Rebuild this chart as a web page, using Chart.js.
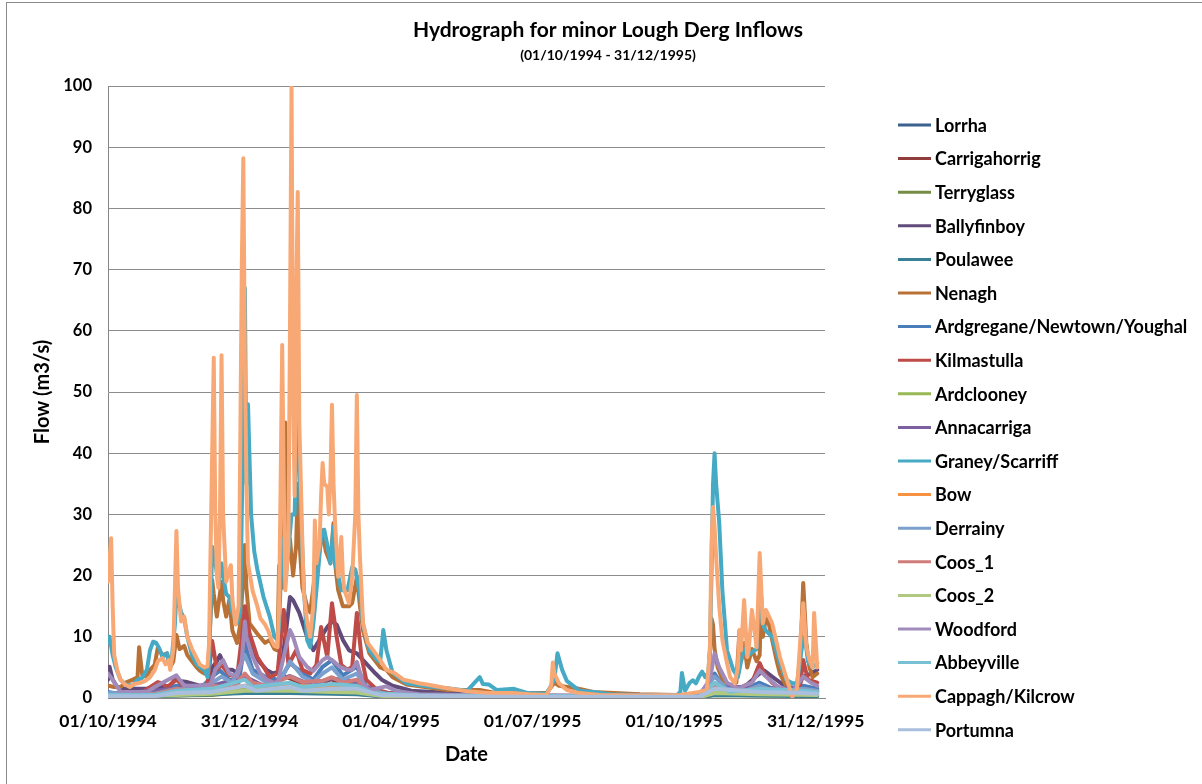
<!DOCTYPE html>
<html>
<head>
<meta charset="utf-8">
<script src="https://cdn.jsdelivr.net/npm/chart.js@4.4.1/dist/chart.umd.min.js"></script>
<style>
  html, body { margin: 0; padding: 0; background: #fff; overflow: hidden; }
  #wrap { position: relative; width: 1202px; height: 784px; }
  #frame { position: absolute; left: 6px; top: 2px; width: 1220px; height: 800px; border: 1px solid #8a8a8a; pointer-events: none; }
</style>
</head>
<body>
<div id="wrap">
  <canvas id="hydro" width="1202" height="784"></canvas>
  <div id="frame"></div>
</div>
<script>
// x values are days counted from 01/10/1994
var tickDays = [0, 91, 182, 273, 364, 455];
var tickLabels = ["01/10/1994", "31/12/1994", "01/04/1995", "01/07/1995", "01/10/1995", "31/12/1995"];

var seriesNames = ["Lorrha", "Carrigahorrig", "Terryglass", "Ballyfinboy", "Poulawee", "Nenagh",
  "Ardgregane/Newtown/Youghal", "Kilmastulla", "Ardclooney", "Annacarriga", "Graney/Scarriff", "Bow",
  "Derrainy", "Coos_1", "Coos_2", "Woodford", "Abbeyville", "Cappagh/Kilcrow", "Portumna"];

var seriesColors = ["#3B618E", "#903C3A", "#748C43", "#604B7A", "#388195", "#B97135",
  "#4A7EBB", "#BE4B48", "#98B954", "#7D60A0", "#46AAC5", "#F69240",
  "#7BA0CD", "#CF7C7A", "#B0C880", "#A08BBA", "#78C1D4", "#F8A874", "#A9BFDD"];

// [day, flow m3/s]
var lorrha = [[0,0.3],[20,0.4],[44,0.7],[67,0.9],[88,1.6],[100,0.9],[117,1.4],[130,0.8],[144,1.2],[160,1.1],[175,0.4],[220,0.2],[380,0.2],[390,0.8],[419,0.6],[447,0.6],[456,0.5]];
var carrigahorrig = [[0,0.4],[32,0.9],[44,1.2],[59,0.7],[67,2.2],[73,1.8],[88,3.2],[100,1.6],[114,3.5],[117,3.2],[130,1.8],[144,3.1],[150,1.8],[160,2.6],[170,0.8],[200,0.3],[380,0.3],[390,1.6],[419,1.5],[447,1.5],[456,1]];
var terryglass = [[0,0.2],[44,0.4],[67,0.5],[88,1],[117,0.9],[144,0.8],[160,0.7],[180,0.2],[380,0.1],[390,0.5],[419,0.4],[456,0.4]];
var ballyfinboy = [[0,3],[1,5.1],[3,3],[6,1.8],[8,1.5],[14,1.5],[25,1.5],[33,1.8],[40,2],[44,3.4],[46,2.8],[51,2.6],[59,2],[64,2.2],[67,5],[70,6],[72,7],[76,4.6],[80,4.6],[84,4],[86,7],[89,11.6],[90,10],[93,7.3],[98,5.7],[102,4.6],[106,4],[110,4.3],[112,6],[115,12],[117,16.5],[119,16],[123,13.9],[128,10],[132,7.8],[136,9.5],[141,11.6],[144,12.5],[147,12],[151,9.5],[155,7.8],[160,7.3],[164,6.2],[168,5.1],[172,4],[176,3],[183,2],[195,1.2],[220,0.8],[260,0.5],[300,0.3],[370,0.3],[388,1.2],[392,2],[400,1.2],[410,2],[419,4],[422,4.5],[427,3.5],[435,2],[443,1.5],[447,3.5],[452,4],[456,4.6]];
var poulawee = [[0,0.2],[44,0.4],[88,0.8],[117,0.8],[144,0.7],[160,0.6],[180,0.2],[380,0.1],[390,0.5],[456,0.3]];
var nenagh = [[0,2],[4,1.8],[8,1.8],[12,2.6],[16,3],[19,3.4],[20,8.3],[22,3.8],[25,3.4],[27,4.6],[30,5.4],[32,8.2],[35,7],[38,7.3],[40,5],[42,6],[44,10.3],[46,8],[49,8.5],[51,7],[54,6],[57,5],[59,4.5],[62,4],[64,4.2],[65,8],[67,19.3],[68,17],[70,13.3],[73,19],[74,16],[76,13.3],[78,16],[80,11],[83,9],[85,12],[87,20],[88,25],[89,18],[91,12.2],[96,10.5],[101,9],[104,9.5],[107,8],[109,7.8],[110,21.6],[112,18],[113,30],[114,45],[115,22],[117,26],[119,20],[121,25],[122,35],[123,26],[125,18],[128,15],[130,14],[133,20],[136,24],[138,27.4],[140,24],[143,22],[145,28.6],[146,22],[148,17.6],[151,15],[155,15],[157,15.5],[160,19.8],[162,15],[164,11],[168,7.3],[175,5],[179,4.6],[183,3.4],[192,2.2],[218,1.3],[239,1.3],[250,0.8],[282,0.8],[287,2.5],[290,2],[301,1.6],[312,1],[342,0.6],[366,0.5],[380,0.6],[386,1.5],[388,13],[389,12],[390,8],[392,5],[395,3],[400,2],[404,2.5],[406,11],[407,6],[409,9],[411,5],[414,8],[417,6],[419,7],[420,16.5],[421,10],[423,13],[425,12],[427,9.5],[430,6],[432,4],[436,2],[440,1.5],[443,1.5],[445,6],[447,18.8],[448,14],[449,9],[451,5],[453,3.4],[456,4]];
var ardgregane = [[0,1],[8,0.6],[30,0.8],[44,2],[59,1.5],[67,3.5],[72,4.5],[78,3],[84,2.5],[88,9],[90,7],[93,4.6],[102,3.4],[109,3],[113,4],[117,5.7],[125,4.1],[132,3],[138,5.1],[144,6.2],[151,3.7],[160,5.1],[166,1.9],[175,0.9],[200,0.4],[380,0.3],[390,4],[395,2],[410,1.5],[419,2.5],[430,1.2],[447,2],[456,1.5]];
var kilmastulla = [[0,0.5],[8,0.8],[21,0.8],[32,2.6],[35,2.4],[38,1.8],[44,3],[49,1.9],[59,1.9],[64,2.2],[67,9.3],[70,4.6],[73,5.4],[78,3.8],[83,3.4],[87,12],[88,15],[91,10.6],[96,6.7],[100,5.1],[104,3.4],[109,4],[110,6.7],[113,14.4],[116,5.4],[121,7.8],[125,4.6],[130,4],[134,5.4],[137,11.6],[141,6.7],[144,15.5],[147,10],[150,5.4],[154,4.6],[157,5.1],[160,13.9],[163,6.7],[166,3],[173,1.3],[181,0.8],[200,0.5],[250,0.3],[380,0.3],[388,2],[392,1.2],[405,1],[409,2],[414,2.5],[419,5.7],[422,4],[427,2.5],[432,1.5],[440,0.8],[445,2],[447,6.2],[450,3],[456,2.5]];
var ardclooney = [[0,0.3],[44,0.7],[67,1],[88,1.8],[117,1.6],[144,1.5],[160,1.2],[180,0.3],[380,0.2],[390,1],[419,0.8],[456,0.6]];
var annacarriga = [[0,0.6],[44,1.5],[67,2],[88,3.5],[100,2],[117,3.6],[130,2.2],[144,3.2],[160,2.6],[175,0.8],[200,0.3],[380,0.3],[390,2],[419,1.6],[447,1.5],[456,1.2]];
var graneyScarriff = [[0,9],[1,10],[3,7],[5,5],[8,3],[12,2.1],[16,2.1],[19,3],[22,3.3],[25,4.6],[27,7.8],[29,9.2],[31,9],[33,8.1],[35,6.7],[38,7.3],[39,5.7],[41,6.5],[43,12],[44,17],[45,16],[47,14],[49,13],[51,10],[54,7],[57,5.5],[62,4.5],[64,3.4],[65,6],[66,15],[67,24.7],[69,22],[71,18.8],[73,22],[74,20],[76,17],[78,16.5],[80,14],[83,12.2],[85,14],[86,30],[87,45],[88,67],[89,35],[90,48],[92,30],[94,24],[96,21],[100,16.5],[104,13.3],[107,10],[109,9.5],[110,12],[112,26],[114,19],[116,24],[118,30],[120,30],[122,50],[124,30],[126,17.6],[128,9.5],[130,8.3],[132,12],[134,17.6],[137,26.3],[139,27.5],[141,25],[143,22],[145,28],[146,22],[148,20],[150,17.6],[154,17.6],[157,21.4],[159,21],[162,17],[164,12],[168,7.8],[173,6.2],[175,5.9],[177,11.1],[179,7.8],[183,4.1],[192,2.4],[205,1.9],[218,1.6],[231,1.2],[239,3.4],[241,2.3],[245,2.2],[250,1.3],[261,1.5],[270,0.8],[282,0.7],[287,3],[289,7.3],[292,4.6],[295,2.8],[297,2.4],[303,1.2],[312,1],[323,0.6],[342,0.5],[366,0.5],[368,1],[369,4.1],[371,1.2],[374,2.5],[376,2.9],[378,2.4],[380,3.5],[382,4.3],[384,3.4],[386,4.1],[387,8],[388,20],[389,35],[390,40],[391,35],[393,28.6],[395,17.6],[398,7.8],[402,4.6],[405,3.4],[407,6],[409,8],[412,7],[414,7.5],[417,8],[419,17.5],[421,12],[423,11],[427,10],[432,5.7],[436,3],[440,2.4],[443,2.4],[446,8],[448,10],[450,6],[453,5],[456,5.7]];
var bow = [[0,0.3],[44,0.8],[67,1.2],[88,2],[117,2],[144,1.8],[160,1.5],[180,0.4],[380,0.2],[390,1.5],[419,1],[456,0.8]];
var derrainy = [[0,0.8],[30,0.7],[44,1.5],[59,1.2],[67,2.5],[73,3.5],[80,2.5],[88,7],[93,4],[102,2.5],[110,2.4],[117,6],[125,3.5],[132,2.6],[138,4],[144,5],[151,3],[160,4],[166,1.5],[180,0.6],[220,0.3],[380,0.3],[390,3.5],[398,1.5],[410,1.2],[419,2],[430,1],[447,1.5],[456,1.2]];
var coos1 = [[0,0.5],[30,0.6],[44,1.5],[59,1],[67,2],[80,1.6],[88,4],[93,2.5],[102,2],[117,3.5],[125,2.6],[138,2.8],[144,3.4],[151,2.5],[160,3],[168,1],[180,0.5],[380,0.3],[390,2],[400,1],[419,1.5],[447,1.2],[456,1]];
var coos2 = [[0,0.2],[44,0.5],[67,0.7],[88,1.2],[117,1.2],[144,1],[160,0.9],[180,0.2],[380,0.1],[390,0.8],[419,0.6],[456,0.5]];
var woodford = [[0,4],[3,3],[8,1],[25,1],[30,1.8],[44,3.7],[49,2],[59,2],[66,2.2],[69,4.6],[74,6.2],[78,4],[83,3.5],[86,6],[88,12.5],[89,10],[93,6.7],[98,4],[102,3],[109,2.2],[111,4.6],[117,11.1],[119,10],[123,6.7],[128,5.1],[132,4.4],[138,6.2],[141,6.7],[145,6],[149,5.1],[154,4.6],[157,4.6],[160,5.9],[164,2.4],[168,1.3],[179,1.9],[186,1.1],[200,0.6],[250,0.4],[380,0.4],[387,3],[390,7.3],[393,5],[398,2.5],[406,1.5],[409,2],[414,2.5],[419,4.5],[423,3.5],[430,2],[440,1],[447,3.5],[452,2.5],[456,2]];
var abbeyville = [[0,0.5],[30,0.5],[44,1.2],[67,1.5],[88,3],[93,1.8],[117,2.5],[125,1.8],[144,2.3],[160,2],[170,0.8],[200,0.4],[380,0.2],[390,2.5],[400,1],[419,1.5],[447,1.2],[456,1]];
var cappaghKilcrow = [[0,19],[2,26.1],[3,15],[4,7],[6,4.5],[8,3],[11,2.2],[14,1.8],[17,2.3],[21,2.5],[24,2.8],[27,3.4],[30,4.5],[32,6],[35,6.5],[37,5.5],[39,6.2],[40,4.6],[42,8],[44,27.3],[45,18],[47,12.5],[49,13.3],[51,10],[54,8],[57,6.5],[59,5.5],[62,5],[64,5.2],[65,9],[66,25],[68,55.6],[69,30],[70,20],[71,18],[72,30],[73,56],[74,30],[76,19],[77,20],[79,21.7],[80,16],[82,12],[84,15],[85,40],[86,70],[87,88.2],[88,55],[89,35],[90,22],[93,17.5],[96,15],[98,13],[101,12],[103,11],[105,9.5],[107,8.5],[109,8.3],[110,15],[111,35],[112,57.7],[113,35],[114,17.6],[116,25],[117,60],[118,99.8],[119,50],[120,33],[121,65],[122,82.7],[123,45],[125,25],[126,17],[128,12.5],[130,10],[132,15],[133,29],[134,22],[136,25],[137,33],[138,38.4],[139,35],[141,34.5],[142,30],[143,36],[144,47.9],[145,35],[146,28.6],[148,19.8],[149,22],[150,26.3],[151,20],[152,17.6],[155,15.5],[157,19.8],[159,30],[160,49.5],[161,30],[162,23],[164,12.2],[167,9],[172,7.3],[175,6.2],[179,4.6],[184,4.1],[190,3],[200,2.4],[205,2.2],[218,1.6],[231,1.1],[244,0.8],[260,0.8],[271,0.6],[282,0.5],[285,2],[286,5.8],[287,4],[290,2.4],[295,1.3],[303,0.8],[316,0.5],[342,0.4],[368,0.5],[380,1],[385,1.3],[387,8],[388,25],[389,31.2],[390,28],[391,23],[393,15],[395,9.5],[398,5.7],[400,3.4],[403,2.4],[405,5],[406,11.1],[407,7.8],[409,16],[411,6.7],[412,8],[414,14.4],[417,8.3],[419,23.7],[421,12.2],[423,14.4],[425,13.3],[427,12.2],[430,9],[432,6.7],[436,3.4],[438,1.8],[440,0.2],[443,1.5],[445,9],[447,15.5],[449,8.3],[451,6.2],[453,5],[454,13.9],[456,5]];
var portumna = [[0,0.3],[30,0.3],[44,0.8],[67,1],[88,2],[95,1.2],[117,1.8],[125,1.2],[144,1.5],[160,1.5],[175,0.5],[250,0.2],[380,0.2],[390,1.5],[419,1],[447,0.8],[456,0.7]];

var seriesData = [lorrha, carrigahorrig, terryglass, ballyfinboy, poulawee, nenagh,
  ardgregane, kilmastulla, ardclooney, annacarriga, graneyScarriff, bow,
  derrainy, coos1, coos2, woodford, abbeyville, cappaghKilcrow, portumna];

var FONT = "Lato, 'Liberation Sans', sans-serif";

// legend drawn at the right, one row per series, same order as Excel
var sideLegend = {
  id: "sideLegend",
  afterDraw: function (chart) {
    var ctx = chart.ctx;
    var x0 = chart.chartArea.right + 73;
    ctx.save();
    ctx.font = "bold 18px " + FONT;
    ctx.textBaseline = "middle";
    chart.data.datasets.forEach(function (ds, i) {
      var y = 125 + i * 33.6;
      ctx.strokeStyle = ds.borderColor;
      ctx.lineWidth = 3;
      ctx.beginPath();
      ctx.moveTo(x0, y);
      ctx.lineTo(x0 + 33, y);
      ctx.stroke();
      ctx.fillStyle = "#000";
      ctx.fillText(ds.label, x0 + 37, y + 1);
    });
    ctx.restore();
  }
};

var ctx = document.getElementById("hydro").getContext("2d");
var hydroChart = new Chart(ctx, {
  type: "line",
  data: {
    datasets: seriesNames.map(function (name, i) {
      return {
        label: name,
        data: seriesData[i].map(function (p) { return { x: p[0], y: p[1] }; }),
        borderColor: seriesColors[i],
        backgroundColor: seriesColors[i],
        borderWidth: 4,
        pointRadius: 0,
        tension: 0,
        borderJoinStyle: "round",
        borderCapStyle: "round",
        order: -i
      };
    })
  },
  options: {
    responsive: false,
    devicePixelRatio: 1,
    animation: false,
    layout: { padding: { left: 14, right: 0, top: 0, bottom: 0 } },
    plugins: {
      legend: { display: false },
      tooltip: { enabled: false },
      title: {
        display: true,
        text: "Hydrograph for minor Lough Derg Inflows",
        color: "#000",
        font: { family: FONT, size: 21, weight: "bold" },
        padding: { top: 18, bottom: 0 }
      },
      subtitle: {
        display: true,
        text: "(01/10/1994 - 31/12/1995)",
        color: "#000",
        font: { family: FONT, size: 14, weight: "bold" },
        padding: { top: 4, bottom: 22 }
      }
    },
    scales: {
      x: {
        type: "linear",
        min: 0,
        max: 461,
        grid: { display: false, drawTicks: false },
        border: { display: true, color: "#868686", width: 1 },
        afterBuildTicks: function (scale) {
          scale.ticks = tickDays.map(function (d) { return { value: d }; });
        },
        afterFit: function (scale) { scale.height = 86; },
        ticks: {
          autoSkip: false,
          maxRotation: 0,
          padding: 13,
          color: "#000",
          font: { family: FONT, size: 17.5, weight: "bold" },
          callback: function (value, index) { return tickLabels[index]; }
        },
        title: {
          display: true,
          text: "Date",
          color: "#000",
          font: { family: FONT, size: 20, weight: "bold" },
          padding: { top: 0, bottom: 17 }
        }
      },
      y: {
        min: 0,
        max: 100,
        grid: { color: "#8c8c8c", lineWidth: 1, drawTicks: false },
        border: { display: true, color: "#868686", width: 1 },
        afterFit: function (scale) { scale.width = 94; },
        ticks: {
          stepSize: 10,
          padding: 16,
          color: "#000",
          font: { family: FONT, size: 16.5, weight: "bold" }
        },
        title: {
          display: true,
          text: "Flow (m3/s)",
          color: "#000",
          font: { family: FONT, size: 20, weight: "bold" },
          padding: { top: 17, bottom: 0 }
        }
      },
      // empty scale that keeps the room on the right for the legend
      legendRoom: {
        type: "linear",
        position: "right",
        display: true,
        grid: { display: false, drawTicks: false },
        border: { display: false },
        ticks: { display: false },
        afterFit: function (scale) { scale.width = 377; }
      }
    }
  },
  plugins: [sideLegend]
});
</script>
</body>
</html>
